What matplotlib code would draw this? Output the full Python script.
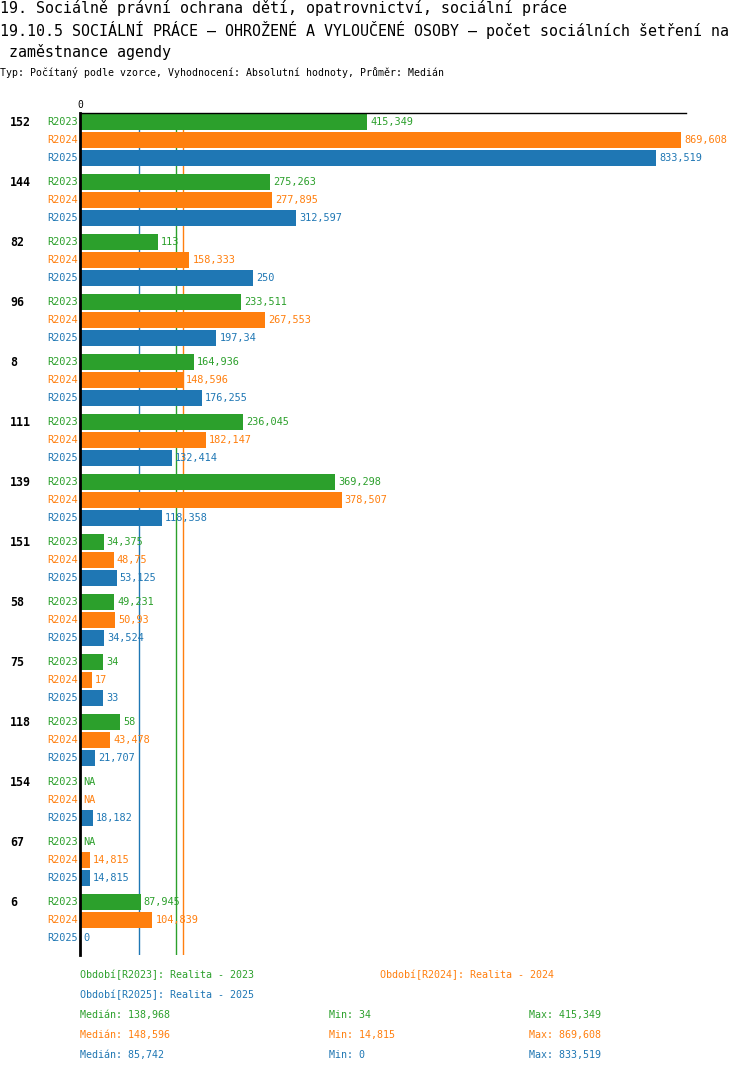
import numpy as np
import matplotlib
matplotlib.use("Agg")
import matplotlib.pyplot as plt

groups = ["152", "144", "82", "96", "8", "111", "139", "151", "58", "75", "118", "154", "67", "6"]
series = ["R2023", "R2024", "R2025"]
legend_names = ["Období[R2023]: Realita - 2023", "Období[R2024]: Realita - 2024", "Období[R2025]: Realita - 2025"]
colors = ["#2ca02c", "#ff7f0e", "#1f77b4"]
nan = np.nan
r2023 = [415.349, 275.263, 113, 233.511, 164.936, 236.045, 369.298, 34.375, 49.231, 34, 58, nan, nan, 87.945]
r2024 = [869.608, 277.895, 158.333, 267.553, 148.596, 182.147, 378.507, 48.75, 50.93, 17, 43.478, nan, 14.815, 104.839]
r2025 = [833.519, 312.597, 250, 197.34, 176.255, 132.414, 118.358, 53.125, 34.524, 33, 21.707, 18.182, 14.815, 0]
values = [r2023, r2024, r2025]

title1 = "19. Sociálně právní ochrana dětí, opatrovnictví, sociální práce"
title2 = "19.10.5 SOCIÁLNÍ PRÁCE – OHROŽENÉ A VYLOUČENÉ OSOBY – počet sociálních šetření na"
title3 = " zaměstnance agendy"
subtitle = "Typ: Počítaný podle vzorce, Vyhodnocení: Absolutní hodnoty, Průměr: Medián"

W, H = 750, 1074
FONT = "DejaVu Sans Mono"

def fmt(v):
    if np.isnan(v):
        return "NA"
    s = f"{v:.3f}".rstrip("0").rstrip(".")
    return s.replace(".", ",")

fig = plt.figure(figsize=(W / 100, H / 100), dpi=100)
ax_left, ax_right, ax_top, ax_bot = 80, 686, 113, 955
ax = fig.add_axes([ax_left / W, 1 - ax_bot / H, (ax_right - ax_left) / W, (ax_bot - ax_top) / H])

xmax = 869.608 * (ax_right - ax_left) / (681 - 80)
ax.set_xlim(0, xmax)
ax.set_ylim(13 * 60 + 35, -27)
px = xmax / (ax_right - ax_left)

bar_h = 16
offsets = [-18, 0, 18]
for si, (vals, col) in enumerate(zip(values, colors)):
    for gi, v in enumerate(vals):
        y = gi * 60 + offsets[si]
        vv = 0 if np.isnan(v) else v
        ax.barh(y, vv, height=bar_h, color=col, zorder=2)
        ax.text(vv + 3 * px, y, fmt(v), color=col, fontsize=7.4,
                family=FONT, va="center", ha="left", zorder=4)
        ax.text(-2 * px, y, series[si], color=col, fontsize=7.4,
                family=FONT, va="center", ha="right", clip_on=False)

for gi, g in enumerate(groups):
    ax.text(-70 * px, gi * 60 - 18, g, fontsize=8.4, family=FONT,
            fontweight="bold", va="center", ha="left", clip_on=False)

# median lines (behind the bars)
for vals, col in zip(values, colors):
    med = np.nanmedian(vals)
    ax.axvline(med, color=col, lw=1, zorder=1)

for s in ["right", "bottom"]:
    ax.spines[s].set_visible(False)
ax.spines["left"].set_linewidth(2)
ax.spines["left"].set_color("black")
ax.spines["left"].set_zorder(5)
ax.spines["top"].set_linewidth(1)
ax.xaxis.tick_top()
ax.set_xticks([0])
ax.set_xticklabels(["0"], family=FONT, fontsize=7)
ax.tick_params(axis="x", length=0, pad=2)
ax.set_yticks([])
ax.set_facecolor("white")

def ftext(x, y, s, **kw):
    fig.text(x / W, 1 - y / H, s, va="center", ha="left", family=FONT, **kw)

ftext(0, 8, title1, fontsize=10.8)
ftext(0, 30, title2, fontsize=10.8)
ftext(0, 52, title3, fontsize=10.8)
ftext(0, 73, subtitle, fontsize=7.1)

ftext(80, 975, legend_names[0], fontsize=7.2, color=colors[0])
ftext(380, 975, legend_names[1], fontsize=7.2, color=colors[1])
ftext(80, 995, legend_names[2], fontsize=7.2, color=colors[2])
for i, (vals, col) in enumerate(zip(values, colors)):
    y = 1015 + 20 * i
    ftext(80, y, "Medián: " + fmt(np.nanmedian(vals)), fontsize=7.2, color=col)
    ftext(329, y, "Min: " + fmt(np.nanmin(vals)), fontsize=7.2, color=col)
    ftext(529, y, "Max: " + fmt(np.nanmax(vals)), fontsize=7.2, color=col)

fig.savefig("out.png", dpi=100, facecolor="white")
